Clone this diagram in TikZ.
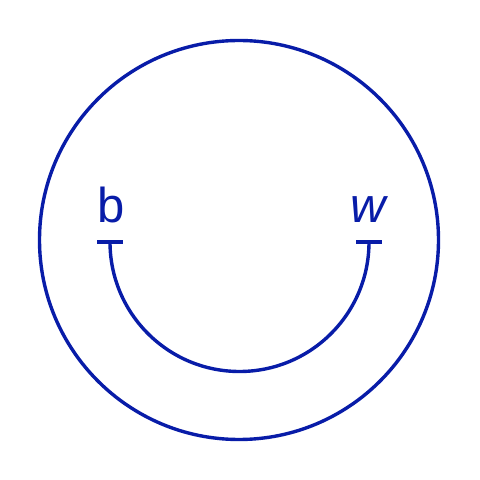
\documentclass[tikz,border=0pt]{standalone}
\usepackage{fontspec}
\setmainfont{Liberation Sans}
\definecolor{ink}{RGB}{8,28,168}
\begin{document}
\begin{tikzpicture}[x=1pt,y=1pt,
  line/.style={draw=ink,line width=3.4pt},
  lbl/.style={text=ink,anchor=base,inner sep=0pt,font=\fontsize{49}{49}\selectfont}]
\useasboundingbox (0,0) rectangle (480,480);
\node[line,circle,minimum size=399pt,inner sep=0pt] (outer) at (239,240) {};
\node[lbl] (b) at (111,257) {b};
\node[lbl] (w) at (368,257) {\itshape w};
\coordinate (pb) at (110,238);
\coordinate (pw) at (369,238);
\draw[line] (97,238) -- (123,238);
\draw[line] (356,238) -- (382,238);
\draw[line] (pb) arc[start angle=180,end angle=360,radius=129.5];
\end{tikzpicture}
\end{document}
